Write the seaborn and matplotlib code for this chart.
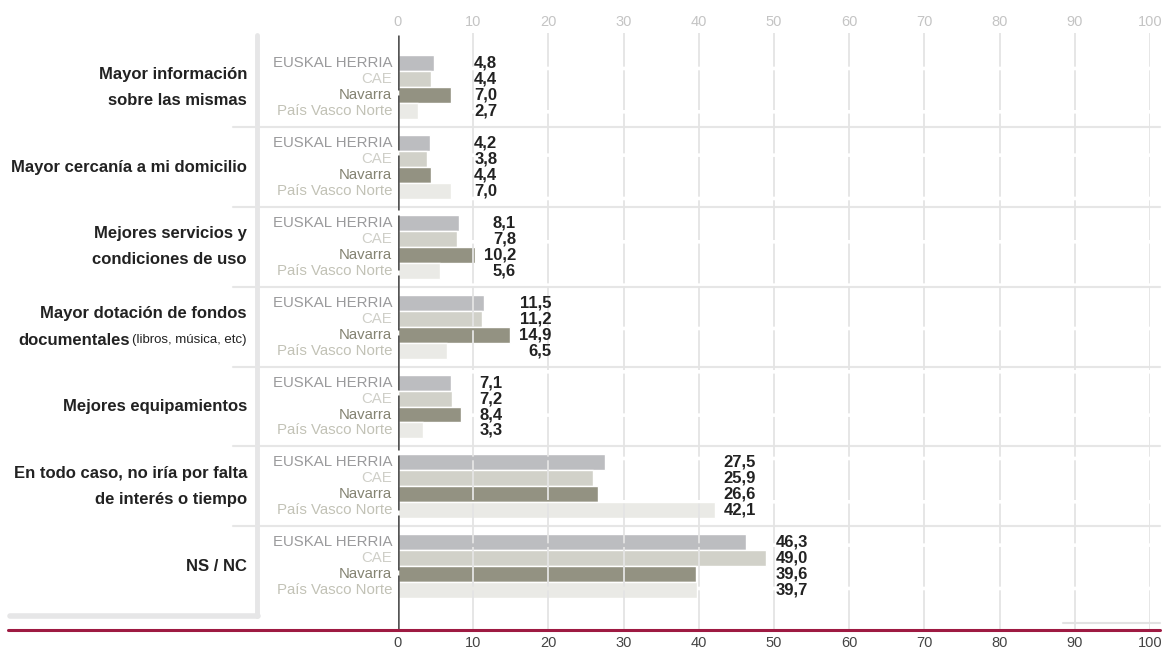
import numpy as np
import pandas as pd
import matplotlib
matplotlib.use("Agg")
import matplotlib.pyplot as plt
import matplotlib.transforms as mtransforms
from matplotlib.lines import Line2D
import seaborn as sns

# Data
categories = [
    "Mayor información\nsobre las mismas",
    "Mayor cercanía a mi domicilio",
    "Mejores servicios y\ncondiciones de uso",
    "Mayor dotación de fondos\ndocumentales",
    "Mejores equipamientos",
    "En todo caso, no iría por falta\nde interés o tiempo",
    "NS / NC",
]
series = ["EUSKAL HERRIA", "CAE", "Navarra", "País Vasco Norte"]
euskal_herria = [4.8, 4.2, 8.1, 11.5, 7.1, 27.5, 46.3]
cae = [4.4, 3.8, 7.8, 11.2, 7.2, 25.9, 49.0]
navarra = [7.0, 4.4, 10.2, 14.9, 8.4, 26.6, 39.6]
pais_vasco_norte = [2.7, 7.0, 5.6, 6.5, 3.3, 42.1, 39.7]
x_ticks = [0, 10, 20, 30, 40, 50, 60, 70, 80, 90, 100]

bar_colors = ["#bcbdc0", "#d1d1c9", "#939282", "#eaeae6"]
name_colors = ["#9a9a9c", "#cfcfc8", "#858473", "#c2c2b6"]

values = [euskal_herria, cae, navarra, pais_vasco_norte]
rows = []
for s, vals in zip(series, values):
    for c, v in zip(categories, vals):
        rows.append({"cat": c, "serie": s, "val": v})
df = pd.DataFrame(rows)

sns.set_style("white")
plt.rcParams["font.family"] = ["Liberation Sans", "DejaVu Sans"]

W, H = 1164, 651
fig = plt.figure(figsize=(W / 100, H / 100), dpi=100)
ax = fig.add_axes([398 / W, 1 - 630 / H, 752 / W, 597 / H])

sns.barplot(data=df, y="cat", x="val", hue="serie", orient="h",
            palette=bar_colors, hue_order=series, order=categories,
            width=0.8, saturation=1, edgecolor="white", linewidth=1,
            legend=False, ax=ax, zorder=2)

ax.set_xlim(0, 100)
ax.set_ylim(6.8, -0.68)
ax.set_yticks([])
ax.set_xlabel("")
ax.set_ylabel("")
for sp in ax.spines.values():
    sp.set_visible(False)

# ticks bottom (dark) and top (light)
ax.set_xticks(x_ticks)
ax.tick_params(axis="x", length=0, labelsize=10.5, labelcolor="#444444", pad=4)
top = ax.secondary_xaxis("top")
top.set_xticks(x_ticks)
top.tick_params(axis="x", length=0, labelsize=10.5, labelcolor="#c4c4c4", pad=3)
for sp in top.spines.values():
    sp.set_visible(False)

# dashed grid drawn over the bars
for t in x_ticks[1:]:
    ax.axvline(t, color="#e4e4e4", lw=1.3, ls=(0, (22, 2)), zorder=3)
ax.axvline(0, color="#555555", lw=1.8, ls=(0, (22, 2)), zorder=4)

fig_y = mtransforms.blended_transform_factory(fig.transFigure, ax.transData)

# group separators
for i in range(len(categories) - 1):
    ax.add_line(Line2D([233 / W, 1160 / W], [i + 0.5, i + 0.5], transform=fig_y,
                       color="#e6e6e6", lw=1.5, clip_on=False, zorder=1))

# left bracket
fig.add_artist(Line2D([256.5 / W, 256.5 / W], [1 - 35 / H, 1 - 616 / H],
                      color="#e6e6e7", lw=3.5))
fig.add_artist(Line2D([10 / W, 258 / W], [1 - 616 / H, 1 - 616 / H],
                      color="#e6e6e7", lw=4))
# bottom rules
fig.add_artist(Line2D([8 / W, 1160 / W], [1 - 630 / H, 1 - 630 / H],
                      color="#9e1a42", lw=2.2))
fig.add_artist(Line2D([1063 / W, 1160 / W], [1 - 623 / H, 1 - 623 / H],
                      color="#e2e2e2", lw=1.5))

offsets = [-0.3, -0.1, 0.1, 0.3]

# series names and values
for i, cat in enumerate(categories):
    gmax = max(v[i] for v in values)
    lab_x = max(13.2, gmax + 5.5)
    for k, s in enumerate(series):
        y = i + offsets[k]
        ax.text(392 / W, y, s, transform=fig_y, ha="right", va="center",
                fontsize=10.8, color=name_colors[k])
        ax.text(lab_x, y, f"{values[k][i]:.1f}".replace(".", ","),
                ha="right", va="center", fontsize=12, fontweight="bold",
                color="#222222", zorder=5)

# category labels
for i, cat in enumerate(categories):
    if i == 3:
        continue
    ax.text(247 / W, i, cat, transform=fig_y, ha="right", va="center",
            fontsize=12, fontweight="bold", color="#222222", linespacing=1.9)

# category with mixed bold / regular second line
ax.text(247 / W, 3 - 0.17, "Mayor dotación de fondos", transform=fig_y,
        ha="right", va="center", fontsize=12, fontweight="bold", color="#222222")
small = ax.text(247 / W, 3 + 0.17, "(libros, música, etc)", transform=fig_y,
                ha="right", va="center", fontsize=9.5, color="#222222")
fig.canvas.draw()
bb = small.get_window_extent()
ax.text(bb.x0 / W - 3 / W, 3 + 0.17, "documentales", transform=fig_y,
        ha="right", va="center", fontsize=12, fontweight="bold", color="#222222")

fig.savefig("out.png", dpi=100)
